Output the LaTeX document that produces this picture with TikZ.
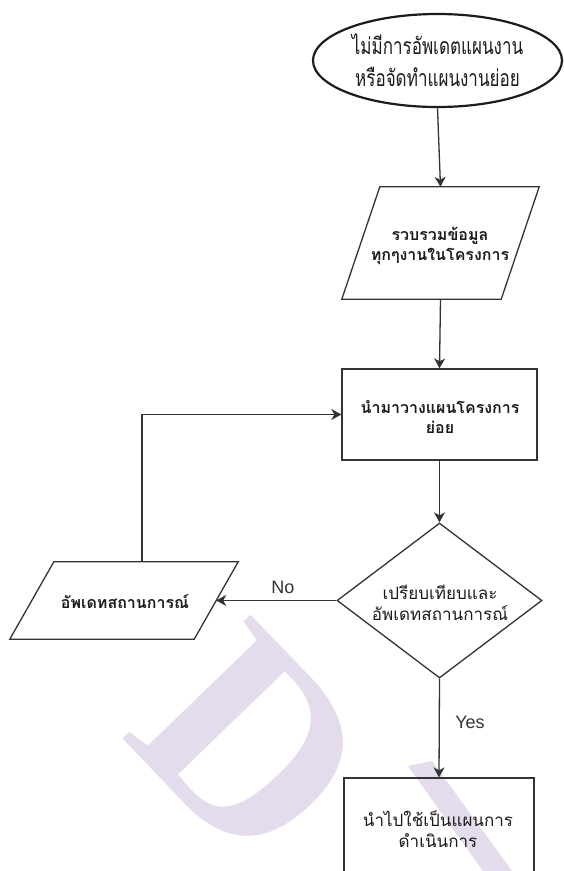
\documentclass[tikz,border=0pt]{standalone}
\usepackage{fontspec}
\setmainfont{Liberation Sans}
\newfontfamily\thaifont[Script=Thai]{Loma}
\newfontfamily\thaicond[Script=Thai,FakeStretch=0.74]{Loma}
\newfontfamily\markfont{Liberation Serif}
\usetikzlibrary{shapes.geometric,arrows.meta}

\definecolor{ink}{HTML}{1C1C1C}
\definecolor{edge}{HTML}{333333}
\definecolor{wmark}{HTML}{E4DBEC}

\tikzset{
  shapeline/.style={draw=edge, line width=1.3pt, fill=none},
  startend/.style={ellipse, draw=ink, line width=2.2pt, minimum width=249, minimum height=93, inner sep=0},
  frame/.style={rectangle, inner sep=0},
  process/.style={shapeline, rectangle, inner sep=0},
  decision/.style={shapeline, diamond, minimum width=205, minimum height=155, inner sep=0},
  boxtext/.style={text=ink, align=center, inner sep=0, font=\thaifont\bfseries\fontsize{16}{20}\selectfont},
  plaintext/.style={text=ink, align=center, inner sep=0, font=\thaifont\fontsize{17}{21}\selectfont},
  titletext/.style={text=ink, align=center, inner sep=0, font=\thaicond\fontsize{23}{32}\selectfont},
  branch/.style={text=edge, inner sep=0, font=\fontsize{18}{18}\selectfont},
  arr/.style={draw=edge, line width=1.3pt, -{Stealth[length=10pt, width=11pt, inset=3pt]}},
}

\begin{document}
\begin{tikzpicture}[x=1pt, y=-1pt]
  \path[use as bounding box] (0,0) rectangle (563,871);
  \clip (0,0) rectangle (563,871);
  \fill[white] (0,0) rectangle (563,871);

  % faint lettering in the background
  \node[font=\markfont\bfseries\fontsize{272}{272}\selectfont, text=wmark, rotate=-46, inner sep=0] (markD) at (252,744) {D};
  \fill[wmark] (408,766) -- (432,761) -- (512,871) -- (483,871) -- cycle;

  % start / end
  \node[startend] (start) at (437.5,60.5) {};
  \node[titletext] (starttxt) at (437.5,60) {ไม่มีการอัพเดตแผนงาน\\หรือจัดทำแผนงานย่อย};

  % input: collect data (parallelogram, slant 38)
  \node[frame, minimum width=197, minimum height=112] (collect) at (440.5,243) {};
  \draw[shapeline] ([xshift=38]collect.north west) -- (collect.north east)
    -- ([xshift=-38]collect.south east) -- (collect.south west) -- cycle;
  \node[boxtext] (collecttxt) at (440,246) {รวบรวมข้อมูล\\ทุกๆงานในโครงการ};

  % process: plan
  \node[process, minimum width=195, minimum height=91] (plan) at (439.5,414.5) {};
  \node[boxtext] (plantxt) at (440,417) {นำมาวางแผนโครงการ\\ย่อย};

  % decision
  \node[decision] (decide) at (439.5,600.5) {};
  \node[plaintext] (decidetxt) at (440,603) {เปรียบเทียบและ\\อัพเดทสถานการณ์};

  % input: update (parallelogram, slant 44)
  \node[frame, minimum width=228, minimum height=77] (update) at (124,600.5) {};
  \draw[shapeline] ([xshift=44]update.north west) -- (update.north east)
    -- ([xshift=-44]update.south east) -- (update.south west) -- cycle;
  \node[boxtext] (updatetxt) at (125,602) {อัพเดทสถานการณ์};
  \coordinate (updateright) at ([xshift=-22]update.east);
  \coordinate (updatetop) at ([xshift=18]update.north);

  % process: execute
  \node[process, minimum width=190, minimum height=100] (exec) at (439,828) {};
  \node[plaintext] (exectxt) at (438,829) {นำไปใช้เป็นแผนการ\\ดำเนินการ};

  % connectors
  \draw[arr] (start.south) -- (collect.north);
  \draw[arr] (collect.south) -- (plan.north);
  \draw[arr] (plan.south) -- (decide.north);
  \draw[arr] (decide.west) -- (updateright);
  \draw[arr] (updatetop) |- (plan.west);
  \draw[arr] (decide.south) -- (exec.north);

  % branch labels
  \node[branch] (nolabel) at (283,587) {No};
  \node[branch] (yeslabel) at (470,722) {Yes};
\end{tikzpicture}
\end{document}
